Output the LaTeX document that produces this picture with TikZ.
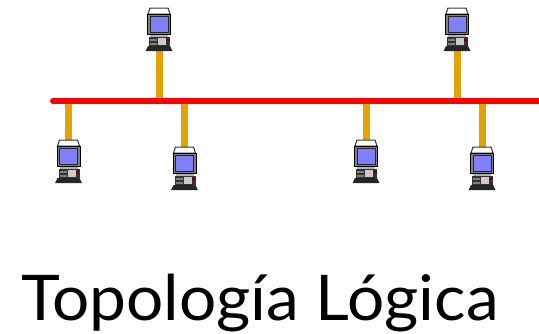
\documentclass[tikz,border=0pt]{standalone}
\usepackage{fontspec}
\setmainfont{Lato}
\definecolor{wire}{RGB}{226,163,6}
\definecolor{scr}{RGB}{128,128,255}
\definecolor{gbody}{RGB}{128,128,128}
\tikzset{
  buswire/.style={draw=red,line width=6pt,line cap=round},
  dropwire/.style={draw=wire,line width=7pt},
  pcbox/.style={inner sep=0pt,minimum width=27pt,minimum height=43pt,anchor=north},
  pc/.pic={
    \fill[white] (-9,0) -- (9,0) -- (11,6) -- (-11,6) -- cycle;
    \draw[black!80,line width=1pt] (-9,0) -- (9,0) -- (11,6) -- (-11,6) -- cycle;
    \fill[gbody] (-11.5,6) rectangle (11.5,26.5);
    \draw[black,line width=.8pt] (-11.5,6) rectangle (11.5,26.5);
    \fill[black!85] (-9.5,8) rectangle (9.5,24.5);
    \fill[scr] (-8.5,9) rectangle (8.5,23.5);
    \fill[gray!60] (-9,27) rectangle (9,29);
    \fill[black!80] (-10,29) rectangle (11,38);
    \fill[gray!40] (-1,30) rectangle (7,37);
    \fill[black!50] (-9,31) rectangle (-2,33);
    \fill[black!50] (-9,34.5) rectangle (-2,36.5);
    \fill[red!50!black] (7,31) rectangle (10.5,33);
    \fill[black!85] (-11,38) -- (11,38) -- (13.5,43) -- (-13.5,43) -- cycle;
  }
}
\begin{document}
\begin{tikzpicture}[x=1pt,y=-1pt]
\useasboundingbox (0,0) rectangle (539,333);
\fill[white] (0,0) rectangle (539,333);
\node[pcbox] (p1) at (159,8) {};
\node[pcbox] (p2) at (457,8) {};
\node[pcbox] (p3) at (68.5,140) {};
\node[pcbox] (p4) at (184.5,147) {};
\node[pcbox] (p5) at (366,140) {};
\node[pcbox] (p6) at (482,147) {};
\coordinate (bl) at (53,101);
\coordinate (br) at (545,101);
\coordinate (t1) at (159,104);
\coordinate (t2) at (457,104);
\coordinate (t3) at (68.5,98);
\coordinate (t4) at (184.5,98);
\coordinate (t5) at (366,98);
\coordinate (t6) at (482,98);
\draw[dropwire] (p1.south) -- (t1);
\draw[dropwire] (p2.south) -- (t2);
\draw[dropwire] (p3.north) -- (t3);
\draw[dropwire] (p4.north) -- (t4);
\draw[dropwire] (p5.north) -- (t5);
\draw[dropwire] (p6.north) -- (t6);
\draw[buswire] (bl) -- (br);
\pic at (p1.north) {pc};
\pic at (p2.north) {pc};
\pic at (p3.north) {pc};
\pic at (p4.north) {pc};
\pic at (p5.north) {pc};
\pic at (p6.north) {pc};
\node[inner sep=0pt,anchor=base west,xscale=1.045,font=\fontsize{63}{63}\selectfont] (title) at (21,320) {Topología Lógica};
\end{tikzpicture}
\end{document}
